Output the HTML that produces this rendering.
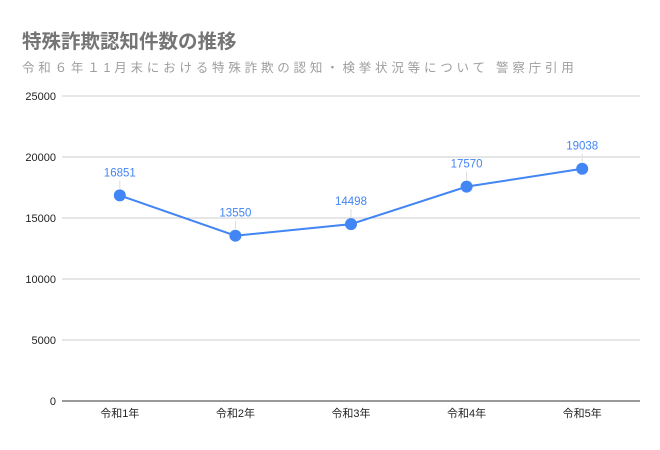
<!DOCTYPE html>
<html><head><meta charset="utf-8"><style>
body{margin:0;background:#fff;}
svg{display:block;font-family:"Liberation Sans","Noto Sans CJK JP",sans-serif;}
</style></head><body>
<svg id="chart" width="660" height="450" viewBox="0 0 660 450">
<rect width="660" height="450" fill="#fff"/>
<text x="22" y="48" font-size="19.5" font-weight="bold" fill="#757575">特殊詐欺認知件数の推移</text>
<text x="22" y="72" font-size="12.5" fill="#9e9e9e" letter-spacing="3.8">令和６年１1月末における特殊詐欺の認知・検挙状況等について 警察庁引用</text>
<g id="grid"></g><g id="yticks"></g><g id="xticks"></g><g id="series"></g>
</svg>
<script>
const categories=["令和1年","令和2年","令和3年","令和4年","令和5年"];
const values=[16851,13550,14498,17570,19038];
const yTicks=[0,5000,10000,15000,20000,25000];
const NS="http://www.w3.org/2000/svg";
const L=62,R=640,T=96,B=401,yMax=25000;
const bw=(R-L)/categories.length;
const x=i=>L+bw*(i+0.5);
const y=v=>B-(v/yMax)*(B-T);
function mk(tag,attrs,parent,text){const e=document.createElementNS(NS,tag);for(const k in attrs)e.setAttribute(k,attrs[k]);if(text!==undefined)e.textContent=text;document.getElementById(parent).appendChild(e);return e;}
yTicks.forEach(t=>{
 const g=mk("line",{x1:L,x2:R,y1:y(t),y2:y(t),stroke:t===0?"#333":"#ccc","stroke-width":1},"grid");
 
 
 const l=mk("text",{x:56,y:y(t)+4,"font-size":11,fill:"#222","text-anchor":"end"},"yticks",String(t));
 
 
});
categories.forEach((c,i)=>{
 const l=mk("text",{x:x(i),y:417,"font-size":11,fill:"#222","text-anchor":"middle"},"xticks",c);
 
 
});
const line=mk("polyline",{points:values.map((v,i)=>x(i)+","+y(v)).join(" "),fill:"none",stroke:"#4285f4","stroke-width":2},"series");


values.forEach((v,i)=>{
 const ld=mk("line",{x1:x(i),x2:x(i),y1:y(v)-7,y2:y(v)-15,stroke:"#ddd","stroke-width":1},"series");
 
 
 const p=mk("circle",{cx:x(i),cy:y(v),r:6,fill:"#4285f4"},"series");
 
 
 const t=mk("text",{x:x(i),y:y(v)-19,"font-size":11.5,fill:"#4285f4","text-anchor":"middle"},"series",String(v));
 
 
});
</script>
</body></html>
